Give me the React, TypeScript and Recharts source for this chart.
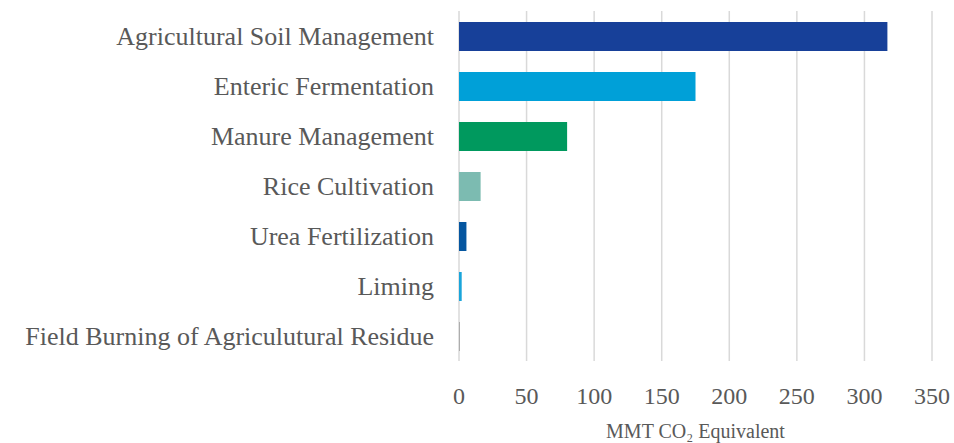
import { BarChart, Bar, XAxis, YAxis, CartesianGrid, Cell } from 'recharts'

const categories = [
  'Agricultural Soil Management',
  'Enteric Fermentation',
  'Manure Management',
  'Rice Cultivation',
  'Urea Fertilization',
  'Liming',
  'Field Burning of Agriculutural Residue',
]
const values = [317, 175, 80, 16, 5.5, 2, 0.4]
const barColors = ['#174099', '#00A0D8', '#00995E', '#7CBBB1', '#0556A0', '#1AA5DB', '#7F7F7F']
const xTicks = [0, 50, 100, 150, 200, 250, 300, 350]

const font = '"Liberation Serif", serif'
const textColor = '#595959'

export default function App() {
  const data = categories.map((name, i) => ({ name, value: values[i] }))

  return (
    <div style={{ position: 'absolute', left: 0, top: 0, background: '#fff' }}>
      <BarChart
        width={954}
        height={443}
        data={data}
        layout="vertical"
        margin={{ top: 11, right: 22, left: 0, bottom: 0 }}
      >
        <CartesianGrid horizontal={false} stroke="#D9D9D9" strokeWidth={1.5} />
        <XAxis
          type="number"
          domain={[0, 350]}
          ticks={xTicks}
          height={82}
          axisLine={false}
          tickLine={false}
          tickMargin={20}
          tick={{ fontSize: 24, fill: textColor, fontFamily: font }}
          label={{
            value: 'MMT CO₂ Equivalent',
            position: 'insideBottom',
            offset: 5,
            fontSize: 20,
            fill: textColor,
            fontFamily: font,
          }}
        />
        <YAxis
          type="category"
          dataKey="name"
          width={459}
          axisLine={false}
          tickLine={false}
          tickMargin={19}
          interval={0}
          tick={{ fontSize: 26, fill: textColor, fontFamily: font }}
        />
        <Bar dataKey="value" barSize={29} isAnimationActive={false}>
          {data.map((d, i) => (
            <Cell key={d.name} fill={barColors[i]} />
          ))}
        </Bar>
      </BarChart>
    </div>
  )
}
